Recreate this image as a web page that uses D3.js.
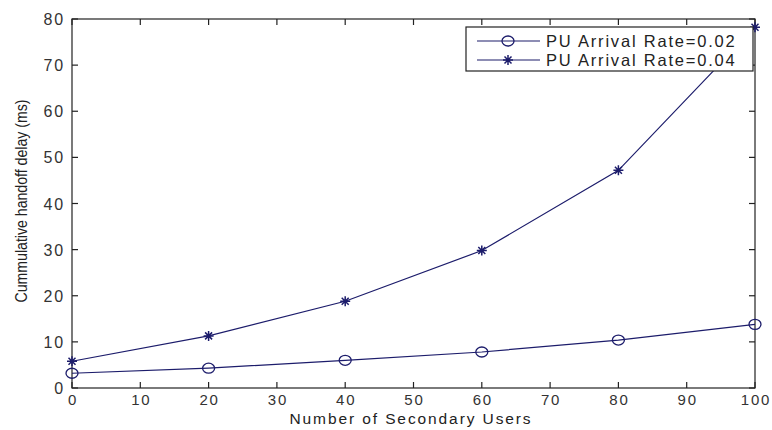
<!DOCTYPE html>
<html>
<head>
<meta charset="utf-8">
<script src="https://cdn.jsdelivr.net/npm/d3@7.9.0/dist/d3.min.js"></script>
<style>
  body { margin: 0; background: #fff; }
  text { font-family: "Liberation Sans", Arial, sans-serif; }
</style>
</head>
<body>
<svg width="772" height="430"></svg>
<script>
// data
const users = [0, 20, 40, 60, 80, 100];
const rate002 = [3.2, 4.3, 6.0, 7.8, 10.4, 13.8];
const rate004 = [5.8, 11.3, 18.8, 29.8, 47.2, 78.2];
const seriesNames = ['PU Arrival Rate=0.02', 'PU Arrival Rate=0.04'];
const xTicks = [0, 10, 20, 30, 40, 50, 60, 70, 80, 90, 100];
const yTicks = [0, 10, 20, 30, 40, 50, 60, 70, 80];

const plotL = 72, plotR = 755, plotT = 19, plotB = 388;
const lineColor = '#1c1c6b';

const svg = d3.select('svg');
const x = d3.scaleLinear().domain([0, 100]).range([plotL, plotR]);
const y = d3.scaleLinear().domain([0, 80]).range([plotB, plotT]);

// frame
svg.append('rect')
  .attr('x', plotL).attr('y', plotT)
  .attr('width', plotR - plotL).attr('height', plotB - plotT)
  .attr('fill', 'none').attr('stroke', '#222').attr('stroke-width', 1.2);

// ticks pointing inwards on all sides
const tickLen = 6;
let g = svg.append('g').attr('stroke', '#222').attr('stroke-width', 1.2);
xTicks.forEach(t => {
  g.append('line').attr('x1', x(t)).attr('x2', x(t)).attr('y1', plotB).attr('y2', plotB - tickLen);
  g.append('line').attr('x1', x(t)).attr('x2', x(t)).attr('y1', plotT).attr('y2', plotT + tickLen);
});
yTicks.forEach(t => {
  g.append('line').attr('y1', y(t)).attr('y2', y(t)).attr('x1', plotL).attr('x2', plotL + tickLen);
  g.append('line').attr('y1', y(t)).attr('y2', y(t)).attr('x1', plotR).attr('x2', plotR - tickLen);
});

// tick labels
svg.selectAll('.xl').data(xTicks).enter().append('text')
  .attr('x', d => x(d) + 1).attr('y', 405)
  .attr('text-anchor', 'middle').attr('font-size', 15).attr('letter-spacing', 1.8)
  .attr('fill', '#333')
  .text(d => d);
svg.selectAll('.yl').data(yTicks).enter().append('text')
  .attr('x', 65).attr('y', d => y(d) + 6)
  .attr('text-anchor', 'end').attr('font-size', 16).attr('letter-spacing', 1.8)
  .attr('fill', '#333')
  .text(d => d);

// axis titles
svg.append('text')
  .attr('x', 411).attr('y', 424)
  .attr('text-anchor', 'middle').attr('font-size', 15.5).attr('fill', '#222')
  .attr('letter-spacing', 1.9)
  .text('Number of Secondary Users');
svg.append('text')
  .attr('transform', `translate(27,201) rotate(-90)`)
  .attr('text-anchor', 'middle').attr('font-size', 16)
  .attr('font-family', '"Liberation Sans Narrow", "DejaVu Sans Condensed", sans-serif')
  .attr('textLength', 203).attr('lengthAdjust', 'spacingAndGlyphs')
  .attr('fill', '#222')
  .text('Cummulative handoff delay (ms)');

// lines
const line = d3.line().x((d, i) => x(users[i])).y(d => y(d));
[rate002, rate004].forEach(s => {
  svg.append('path').attr('d', line(s))
    .attr('fill', 'none').attr('stroke', lineColor).attr('stroke-width', 1.2);
});

// markers
function circleMark(sel, cx, cy) {
  sel.append('ellipse').attr('cx', cx).attr('cy', cy).attr('rx', 6).attr('ry', 5)
    .attr('fill', 'none').attr('stroke', lineColor).attr('stroke-width', 1.3);
}
function starMark(sel, cx, cy) {
  const r = 5;
  const p = `M${cx - r},${cy}H${cx + r}M${cx},${cy - r}V${cy + r}` +
    `M${cx - r * 0.7},${cy - r * 0.7}L${cx + r * 0.7},${cy + r * 0.7}` +
    `M${cx - r * 0.7},${cy + r * 0.7}L${cx + r * 0.7},${cy - r * 0.7}`;
  sel.append('path').attr('d', p).attr('stroke', lineColor).attr('stroke-width', 1.5);
}
rate002.forEach((v, i) => circleMark(svg, x(users[i]), y(v)));
rate004.forEach((v, i) => starMark(svg, x(users[i]), y(v)));

// legend
const lg = svg.append('g');
lg.append('rect').attr('x', 466).attr('y', 27).attr('width', 287).attr('height', 44)
  .attr('fill', '#fff').attr('stroke', '#222').attr('stroke-width', 1.2);
seriesNames.forEach((name, i) => {
  const ly = 41 + i * 19;
  lg.append('line').attr('x1', 477).attr('x2', 540).attr('y1', ly).attr('y2', ly)
    .attr('stroke', lineColor).attr('stroke-width', 1.2);
  if (i === 0) circleMark(lg, 508, ly); else starMark(lg, 508, ly);
  lg.append('text').attr('x', 546).attr('y', ly + 6)
    .attr('font-size', 16.5).attr('letter-spacing', 1.8)
    .attr('fill', '#222').text(name);
});
</script>
</body>
</html>
